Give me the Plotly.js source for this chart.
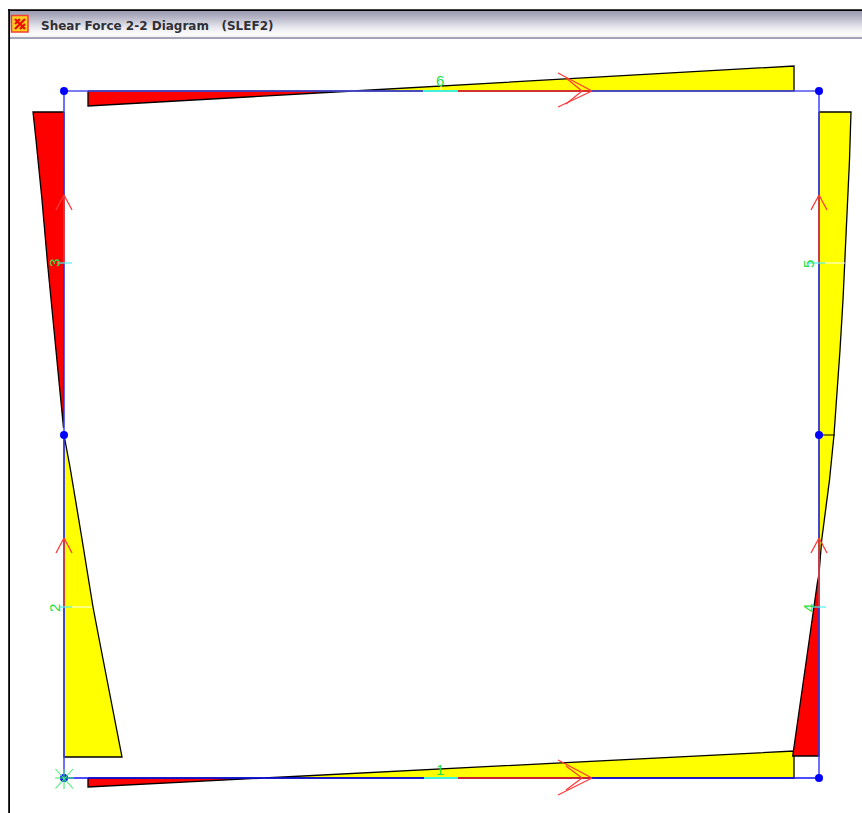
<!DOCTYPE html>
<html><head><meta charset="utf-8">
<script src="https://cdn.plot.ly/plotly-3.0.1.min.js"></script>
<style>html,body{margin:0;padding:0;background:#fff}#c{width:862px;height:813px}</style>
</head><body><div id="c"></div>
<script>
const nodeX=[64,819,64,819,64,819];
const nodeY=[91,91,435,435,778,778];

const redTopX=[88,88,353,88];
const redTopY=[91,106,91,91];
const yellowTopX=[353,380,440,530,620,794,794,353];
const yellowTopY=[91,89.5,86,80.9,75.8,66,91,91];
const redBottomX=[88,88,264,88];
const redBottomY=[778,787,778,778];
const yellowBottomX=[264,400,440,620,794,794,264];
const yellowBottomY=[778,771,769,760,751,778,778];
const redUpperLeftX=[64,33,36,42,47.5,54.5,59.5,63.5,64];
const redUpperLeftY=[112,112,140,200,263,333,383,428,112];
const yellowLowerLeftX=[64,70,81,93,99.3,111,122,64,64];
const yellowLowerLeftY=[435,467,533,607,640,700,757,757,435];
const yellowUpperRightX=[819,851,849.5,848,846.5,845,843,840,836.7,834,829.5,824.5,821.7,819,819];
const yellowUpperRightY=[112,112,160,193,227,263,300,350,400,435,480,520,540,574,112];
const redLowerRightX=[819,817.3,813.5,808.3,801.5,792.7,819,819];
const redLowerRightY=[574,583,610,647,693,756,756,574];

const memberLabels=["1","2","3","4","5","6"];
const labelX=[440,54,54,808,808,440];
const labelY=[769,608,263,608,264,80.5];
const labelAngle=[0,-90,-90,-90,-90,0];

const titleText="Shear Force 2-2 Diagram &nbsp; (SLEF2)";
const barColors=["#9c9cb2","#a0a0b6","#a4a4b9","#a8a8bc","#acacc0","#b1b1c3","#b6b6c7","#bbbbcb","#c0c0cf","#c5c5d3","#cacad7","#cfcfdb","#d4d4df","#d9d9e3","#dedee6","#e3e3ea","#e7e7ed","#ebebf0","#efeff3","#f2f2f5","#f5f5f7","#f7f7f9","#f9f9fa","#fafafb","#f8f8fa","#f2f2f5","#a8a8bc","#a0a0b4"];

function poly(x,y,fill){return {x,y,type:'scatter',mode:'lines',fill:'toself',fillcolor:fill,hoverinfo:'skip',
  line:{color:'#000',width:1.3}};}
function seg(x,y,color,w){return {x,y,type:'scatter',mode:'lines',hoverinfo:'skip',line:{color,width:w||1}};}

const traces=[
 poly(redTopX,redTopY,'#ff0000'),poly(yellowTopX,yellowTopY,'#ffff00'),
 poly(redBottomX,redBottomY,'#ff0000'),poly(yellowBottomX,yellowBottomY,'#ffff00'),
 poly(redUpperLeftX,redUpperLeftY,'#ff0000'),poly(yellowLowerLeftX,yellowLowerLeftY,'#ffff00'),
 poly(yellowUpperRightX,yellowUpperRightY,'#ffff00'),poly(redLowerRightX,redLowerRightY,'#ff0000'),
 seg([819,835],[435,435],'#000',1),
 seg([64,64,null,819,819],[91,778,null,91,778],'#4040ff',1.5),
 seg([64,819],[91,91],'#5050f0',1.6),
 seg([64,819],[778,778],'#1010ff',1.5),
 seg([64,64,null,64,64,null,819,819,null,819,819],[263,195,null,607,538,null,263,195,null,607,538],'#ff3a10',1.4),
 seg([458,592,null,458,592],[91,91,null,778,778],'#ff2a00',1.6),
 seg([423,458,null,424,458],[91,91,null,778,778],'#40f0d8',1.8),
 seg([57,72,null,60,72,null,807,825,null,812,826],[263,263,null,607,607,null,263,263,null,607,607],'#50f0f0',1.2),
 seg([72,92,null,825,845,null,441,441],[607,607,null,263,263,null,85,90],'#ffffff',1),
 // arrowheads
 seg([558,592,558,null,566,582,566],[73,91,107,null,78,91,104],'#ff3838',1.2),
 seg([558,592,558,null,566,582,566],[760,778,795,null,766,778,790],'#ff3838',1.2),
 seg([56,64,72,null,56,64,72],[210,195,210,null,553,538,553],'#ff3838',1.3),
 seg([811,819,827,null,811,819,827],[210,195,210,null,553,538,553],'#ff3838',1.3),
 {x:nodeX,y:nodeY,type:'scatter',mode:'markers',hoverinfo:'skip',marker:{color:'#0000ff',size:8}},
 // support marker
 seg([55.5,73,null,55.5,73,null,64,64,null,55,74],[769,788.5,null,788.5,769,null,769,789,null,778,778],'#40f070',1.1),
];
const shapes=[];
barColors.forEach((c,i)=>shapes.push({type:'rect',xref:'x',yref:'y',x0:9,x1:862,y0:11+i,y1:12+i,fillcolor:c,line:{width:0},layer:'below'}));
shapes.push({type:'rect',xref:'x',yref:'y',x0:8,x1:862,y0:9.2,y1:11,fillcolor:'#000',line:{width:0}});
shapes.push({type:'rect',xref:'x',yref:'y',x0:8.2,x1:10,y0:9.2,y1:813,fillcolor:'#000',line:{width:0}});
shapes.push({type:'rect',xref:'x',yref:'y',x0:11.5,x1:28,y0:15.5,y1:32,fillcolor:'#ffd020',line:{color:'#f04030',width:1.5}});
shapes.push({type:'path',xref:'x',yref:'y',path:'M15,19 L25,29 M25,19 L15,29 M15,24 L20,19 M20,29 L25,24',line:{color:'#e81000',width:2.4}});

const annotations=[{x:39,y:25.5,xref:'x',yref:'y',xanchor:'left',yanchor:'middle',showarrow:false,text:'<b>'+titleText+'</b>',
  font:{family:'"DejaVu Sans",sans-serif',size:12,color:'#303038'}}];
memberLabels.forEach((t,i)=>annotations.push({x:labelX[i],y:labelY[i],xref:'x',yref:'y',showarrow:false,text:t,textangle:labelAngle[i],
  font:{family:'"Liberation Sans",sans-serif',size:15,color:'#20e040'}}));

Plotly.newPlot('c',traces,{
  width:862,height:813,margin:{l:0,r:0,t:0,b:0},showlegend:false,
  paper_bgcolor:'#fff',plot_bgcolor:'#fff',
  xaxis:{range:[0,862],visible:false,fixedrange:true},
  yaxis:{range:[813,0],visible:false,fixedrange:true},
  shapes,annotations
},{displayModeBar:false,staticPlot:true});
</script></body></html>
